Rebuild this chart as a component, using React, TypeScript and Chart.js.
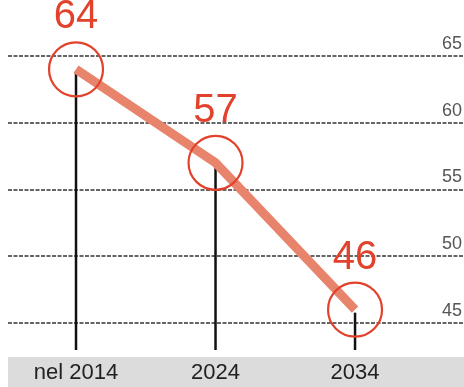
import React, { useEffect, useRef } from "react";
import { Chart, registerables } from "chart.js";

Chart.register(...registerables);

const categories = ["nel 2014", "2024", "2034"];
const values = [64, 57, 46];
const yTicks = [45, 50, 55, 60, 65];

const FONT = '"Liberation Sans", Arial, sans-serif';

const decorPlugin = {
  id: "decor",
  beforeDraw(chart: any) {
    const { ctx, width, height } = chart;
    const xs = chart.scales.x;
    ctx.save();
    ctx.fillStyle = "#dcdcdc";
    ctx.fillRect(8, xs.top + 7, width - 8, height - xs.top - 7);
    ctx.restore();
  },
  beforeDatasetsDraw(chart: any) {
    const { ctx, chartArea } = chart;
    const meta = chart.getDatasetMeta(0);
    ctx.save();
    ctx.strokeStyle = "#111";
    ctx.lineWidth = 2.5;
    meta.data.forEach((pt: any) => {
      ctx.beginPath();
      ctx.moveTo(pt.x, pt.y + 3);
      ctx.lineTo(pt.x, chartArea.bottom);
      ctx.stroke();
    });
    ctx.restore();
  },
  afterDatasetsDraw(chart: any) {
    const { ctx } = chart;
    const meta = chart.getDatasetMeta(0);
    ctx.save();
    ctx.fillStyle = "#e2412b";
    ctx.font = `40px ${FONT}`;
    ctx.textAlign = "center";
    ctx.textBaseline = "alphabetic";
    meta.data.forEach((pt: any, i: number) => {
      ctx.fillText(String(values[i]), pt.x, pt.y - 41);
    });
    ctx.restore();
  },
};

export default function App() {
  const ref = useRef<HTMLCanvasElement | null>(null);
  useEffect(() => {
    if (!ref.current) return;
    const chart = new Chart(ref.current, {
      type: "line",
      data: {
        datasets: [
          {
            data: values.map((v, i) => ({ x: i, y: v })),
            borderColor: "#e8846b",
            borderWidth: 9,
            pointRadius: 27,
            pointBorderWidth: 2.2,
            pointBorderColor: "#e2412b",
            pointBackgroundColor: "rgba(0,0,0,0)",
            clip: false as any,
          },
        ],
      },
      options: {
        animation: false,
        responsive: false,
        layout: { autoPadding: false, padding: { left: 8, right: 0, top: 0, bottom: 0 } },
        plugins: { legend: { display: false }, tooltip: { enabled: false } },
        scales: {
          x: {
            type: "linear",
            min: -0.4875,
            max: 2.781,
            afterBuildTicks: (s: any) => {
              s.ticks = categories.map((_, i) => ({ value: i }));
            },
            afterFit: (s: any) => {
              s.height = 37;
              s.paddingLeft = 0;
              s.paddingRight = 0;
            },
            grid: { display: false, drawTicks: false },
            border: { display: false },
            ticks: {
              padding: 10,
              maxRotation: 0,
              color: "#222",
              font: { size: 22, family: FONT },
              callback: (v: any) => categories[v] ?? "",
            },
          },
          y: {
            position: "right",
            min: 42.978,
            max: 69.195,
            afterBuildTicks: (s: any) => {
              s.ticks = yTicks.map((v) => ({ value: v }));
            },
            afterFit: (s: any) => {
              s.width = 0;
              s.paddingTop = 0;
              s.paddingBottom = 0;
            },
            grid: {
              color: "#666",
              lineWidth: 2,
              drawTicks: false,
            },
            border: { display: false, dash: [4, 1.5] },
            ticks: {
              mirror: true,
              padding: -2,
              labelOffset: -12,
              color: "#555",
              font: { size: 18, family: FONT },
            },
          },
        },
      },
      plugins: [decorPlugin],
    });
    return () => chart.destroy();
  }, []);
  return (
    <div style={{ position: "absolute", left: 0, top: 0, width: 464, height: 387, background: "#fff" }}>
      <canvas ref={ref} width={464} height={387} />
    </div>
  );
}
